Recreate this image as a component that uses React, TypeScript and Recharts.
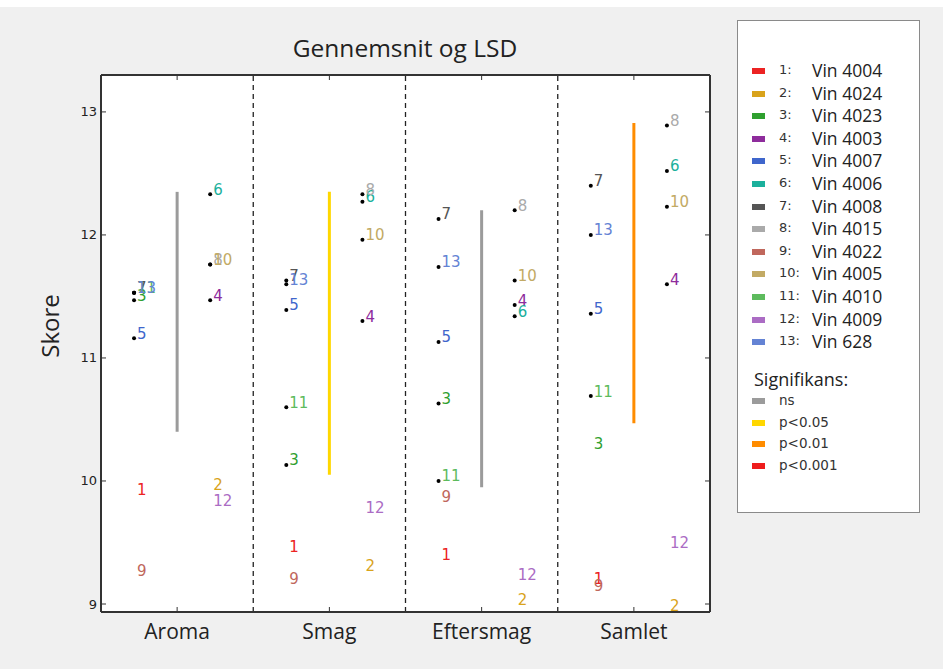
import React from 'react';
import { ScatterChart, Scatter, XAxis, YAxis, ReferenceLine, CartesianGrid } from 'recharts';

const categories = ['Aroma', 'Smag', 'Eftersmag', 'Samlet'];
const wineNumbers = [1, 2, 3, 4, 5, 6, 7, 8, 9, 10, 11, 12, 13];
const wineNames = ['Vin 4004', 'Vin 4024', 'Vin 4023', 'Vin 4003', 'Vin 4007', 'Vin 4006', 'Vin 4008', 'Vin 4015', 'Vin 4022', 'Vin 4005', 'Vin 4010', 'Vin 4009', 'Vin 628'];
const wineColors = ['#ec2323', '#d9a31b', '#2fa02f', '#8e2c9c', '#3f66cc', '#1bb09c', '#555555', '#aaaaaa', '#c0675c', '#c2aa64', '#5dbb5d', '#ab6cc4', '#6483d4'];

// scores per wine (index = wine number - 1)
const aromaScores = [9.89, 9.93, 11.47, 11.47, 11.16, 12.33, 11.53, 11.76, 9.23, 11.76, 11.53, 9.80, 11.53];
const smagScores = [9.43, 9.27, 10.13, 11.30, 11.39, 12.27, 11.63, 12.33, 9.17, 11.96, 10.60, 9.74, 11.60];
const eftersmagScores = [9.36, 9.00, 10.63, 11.43, 11.13, 11.34, 12.13, 12.20, 9.83, 11.63, 10.00, 9.20, 11.74];
const samletScores = [9.17, 8.95, 10.26, 11.60, 11.36, 12.52, 12.40, 12.89, 9.11, 12.23, 10.69, 9.46, 12.00];

// wines drawn without a marker dot, per category
const aromaNoDot = [1, 2, 9, 12];
const smagNoDot = [1, 2, 9, 12];
const eftersmagNoDot = [1, 2, 9, 12];
const samletNoDot = [1, 2, 3, 9, 12];

// LSD bars
const lsdLow = [10.40, 10.05, 9.95, 10.47];
const lsdHigh = [12.35, 12.35, 12.20, 12.91];
const lsdLevel = [0, 1, 0, 2];

const significanceLabels = ['ns', 'p<0.05', 'p<0.01', 'p<0.001'];
const significanceColors = ['#9b9b9b', '#ffd700', '#ff8c00', '#ee1c1c'];

const yTicks = [9, 10, 11, 12, 13];
const yDomain = [8.935, 13.3];
const xTicks = [0.5, 1.5, 2.5, 3.5];

const scoresByCategory = [aromaScores, smagScores, eftersmagScores, samletScores];
const noDotByCategory = [aromaNoDot, smagNoDot, eftersmagNoDot, samletNoDot];

const LEFT_OFFSET = -0.283;
const RIGHT_OFFSET = 0.217;

const seriesData = wineNumbers.map((num, i) =>
  categories.map((c, ci) => ({
    x: ci + 0.5 + (num % 2 === 1 ? LEFT_OFFSET : RIGHT_OFFSET),
    y: scoresByCategory[ci][i],
    dot: !noDotByCategory[ci].includes(num),
  }))
);

const makeShape = (num: number, color: string) => (props: any) => {
  const { cx, cy, payload } = props;
  if (cx == null || cy == null) return <g />;
  return (
    <g>
      {payload.dot && <circle cx={cx} cy={cy} r={2} fill="#000" />}
      <text x={cx + 3} y={cy + 0.5} fill={color} fontSize={15} fontFamily="DejaVu Sans">
        {num}
      </text>
    </g>
  );
};

const BottomTick = (props: any) => {
  const { x, y, payload } = props;
  const axisY = y - 8;
  return (
    <g>
      <line x1={x} x2={x} y1={axisY} y2={axisY - 5} stroke="#333" strokeWidth={1} />
      <text x={x} y={axisY + 27} textAnchor="middle" fontSize={21} fontFamily="Open Sans" fill="#222">
        {categories[Math.floor(payload.value)]}
      </text>
    </g>
  );
};

const TopTick = (props: any) => {
  const { x, y } = props;
  const axisY = y + 8;
  return <line x1={x} x2={x} y1={axisY} y2={axisY + 5} stroke="#333" strokeWidth={1} />;
};

const LeftTick = (props: any) => {
  const { x, y, payload } = props;
  const axisX = x + 4;
  return (
    <g>
      <line x1={axisX} x2={axisX + 5} y1={y} y2={y} stroke="#333" strokeWidth={1} />
      <text x={x} y={y + 4.5} textAnchor="end" fontSize={13} fontFamily="DejaVu Sans" fill="#222">
        {payload.value}
      </text>
    </g>
  );
};

const RightTick = (props: any) => {
  const { x, y } = props;
  const axisX = x - 4;
  return <line x1={axisX} x2={axisX - 5} y1={y} y2={y} stroke="#333" strokeWidth={1} />;
};

export default function App() {
  return (
    <div style={{ position: 'absolute', left: 0, top: 0, width: 943, height: 669, background: '#f0f0f0', overflow: 'hidden' }}>
      <div style={{ position: 'absolute', left: 0, top: 0, width: 943, height: 7, background: '#fff' }} />
      <div
        style={{
          position: 'absolute', left: 0, top: 31, width: 810, textAlign: 'center',
          fontFamily: 'Open Sans', fontSize: 24.5, color: '#222',
        }}
      >
        Gennemsnit og LSD
      </div>
      <svg style={{ position: 'absolute', left: 0, top: 0 }} width={100} height={669}>
        <text x={59} y={326} transform="rotate(-90 59 326)" textAnchor="middle" fontFamily="Open Sans" fontSize={24} fill="#222">
          Skore
        </text>
      </svg>
      <div style={{ position: 'absolute', left: 0, top: 0 }}>
        <ScatterChart width={720} height={669} margin={{ top: 74, right: 9, bottom: 0, left: 0 }}>
          <CartesianGrid fill="#ffffff" horizontal={false} vertical={false} />
          <XAxis
            type="number" dataKey="x" domain={[0, 4]} ticks={xTicks} allowDataOverflow
            tickLine={false} tickSize={0} tickMargin={8} height={57}
            axisLine={{ stroke: '#333', strokeWidth: 2 }} tick={<BottomTick />} interval={0}
          />
          <XAxis
            xAxisId="top" orientation="top" type="number" dataKey="x" domain={[0, 4]} ticks={xTicks} allowDataOverflow
            tickLine={false} tickSize={0} tickMargin={8} height={1}
            axisLine={{ stroke: '#333', strokeWidth: 2 }} tick={<TopTick />} interval={0}
          />
          <YAxis
            type="number" dataKey="y" domain={yDomain} ticks={yTicks} allowDataOverflow
            tickLine={false} tickSize={0} tickMargin={4} width={101}
            axisLine={{ stroke: '#333', strokeWidth: 2 }} tick={<LeftTick />} interval={0}
          />
          <YAxis
            yAxisId="right" orientation="right" type="number" dataKey="y" domain={yDomain} ticks={yTicks} allowDataOverflow
            tickLine={false} tickSize={0} tickMargin={4} width={1}
            axisLine={{ stroke: '#333', strokeWidth: 2 }} tick={<RightTick />} interval={0}
          />
          {[1, 2, 3].map((b) => (
            <ReferenceLine key={'d' + b} x={b} stroke="#222" strokeWidth={1.3} strokeDasharray="5 4" />
          ))}
          {categories.map((c, ci) => (
            <ReferenceLine
              key={'lsd' + c}
              segment={[{ x: ci + 0.5, y: lsdLow[ci] }, { x: ci + 0.5, y: lsdHigh[ci] }]}
              stroke={significanceColors[lsdLevel[ci]]}
              strokeWidth={3}
            />
          ))}
          {wineNumbers.map((num, i) => (
            <Scatter
              key={'w' + num}
              name={wineNames[i]}
              data={seriesData[i]}
              fill={wineColors[i]}
              isAnimationActive={false}
              shape={makeShape(num, wineColors[i])}
            />
          ))}
          <Scatter xAxisId="top" yAxisId="right" data={[{ x: 0.5, y: 11 }]} shape={() => <g />} isAnimationActive={false} />
        </ScatterChart>
      </div>
      <div
        style={{
          position: 'absolute', left: 737, top: 20, width: 183, height: 493,
          background: '#fff', border: '1.5px solid #8a8a8a', boxSizing: 'border-box',
        }}
      >
        {wineNumbers.map((num, i) => (
          <div key={num} style={{ position: 'absolute', left: 0, top: 50 + i * 22.6 - 11, height: 22, width: 180 }}>
            <div style={{ position: 'absolute', left: 14, top: 8, width: 13, height: 6, background: wineColors[i] }} />
            <div style={{ position: 'absolute', left: 41, top: 1, fontFamily: 'DejaVu Sans', fontSize: 13, color: '#333', lineHeight: '18px' }}>
              {num}:
            </div>
            <div style={{ position: 'absolute', left: 74, top: -2, fontFamily: 'Open Sans', fontSize: 17.5, color: '#222', lineHeight: '24px', whiteSpace: 'nowrap' }}>
              {wineNames[i]}
            </div>
          </div>
        ))}
        <div style={{ position: 'absolute', left: 16, top: 345, fontFamily: 'Open Sans', fontSize: 18, color: '#222', lineHeight: '26px' }}>
          Signifikans:
        </div>
        {significanceLabels.map((s, k) => (
          <div key={s} style={{ position: 'absolute', left: 0, top: 380 + k * 21.5 - 11, height: 22, width: 180 }}>
            <div style={{ position: 'absolute', left: 14, top: 8, width: 13, height: 6, background: significanceColors[k] }} />
            <div style={{ position: 'absolute', left: 41, top: 1, fontFamily: 'DejaVu Sans', fontSize: 13.5, color: '#333', lineHeight: '18px' }}>
              {s}
            </div>
          </div>
        ))}
      </div>
    </div>
  );
}
